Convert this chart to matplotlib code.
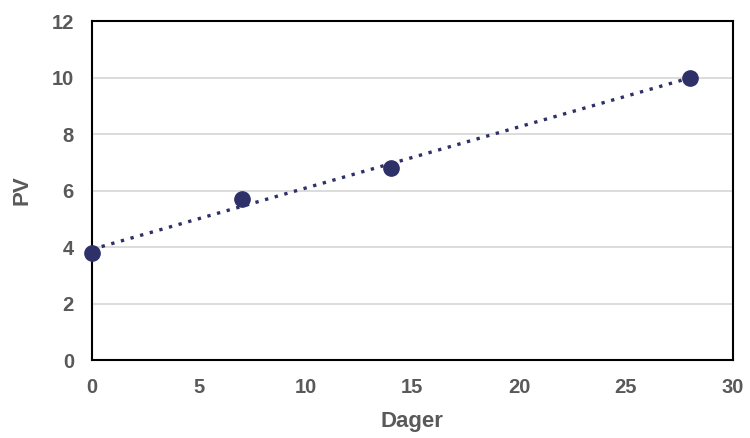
import numpy as np
import matplotlib.pyplot as plt

plt.rcParams['font.family'] = ['Liberation Sans', 'DejaVu Sans']

days = [0, 7, 14, 28]
pv = [3.8, 5.7, 6.8, 10.0]

navy = '#2e3168'
grey = '#595959'

fig = plt.figure(figsize=(7.5, 4.38), dpi=100)
ax = fig.add_axes([0.1227, 0.178, 0.8543, 0.774])

# linear trendline
k, m = np.polyfit(days, pv, 1)
xs = np.array([min(days), max(days)])
ax.plot(xs, k * xs + m, linestyle=(0, (1, 2)), color=navy, lw=2.4, zorder=2)
ax.plot(days, pv, 'o', color=navy, markersize=11, zorder=3, clip_on=False)

ax.set_xlim(0, 30)
ax.set_ylim(0, 12)
ax.set_xticks(range(0, 31, 5))
ax.set_yticks(range(0, 13, 2))
ax.grid(axis='y', color='#d9d9d9', lw=1.3)
ax.set_axisbelow(True)
for s in ax.spines.values():
    s.set_color('black')
    s.set_linewidth(1.5)
ax.tick_params(length=0, labelsize=14.5, labelcolor=grey)
ax.tick_params(axis='x', pad=13)
ax.tick_params(axis='y', pad=13)
for lab in ax.get_xticklabels() + ax.get_yticklabels():
    lab.set_fontweight('bold')

ax.set_xlabel('Dager', fontsize=16, fontweight='bold', color=grey, labelpad=10)
ax.set_ylabel('PV', fontsize=16, fontweight='bold', color=grey, labelpad=14)

fig.savefig('out.png', dpi=100)
